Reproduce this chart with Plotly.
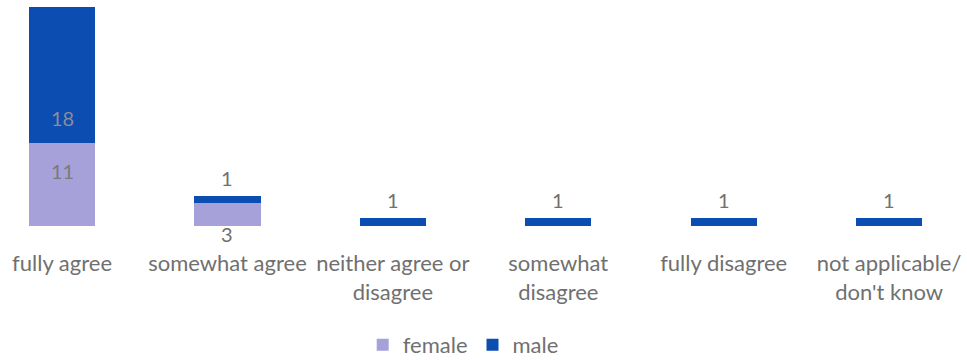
import plotly.graph_objects as go

categories = ["fully agree", "somewhat agree", "neither agree or<br>disagree",
              "somewhat<br>disagree", "fully disagree", "not applicable/<br>don't know"]
female = [11, 3, 0, 0, 0, 0]
male = [18, 1, 1, 1, 1, 1]

FEMALE_C = "#a7a1d9"
MALE_C = "#0b4db0"
TXT = "#707070"
FONT = "Lato"
FS = 22

fig = go.Figure()
fig.add_trace(go.Bar(x=categories, y=female, name="female", marker_color=FEMALE_C,
                     marker_line_width=0))
fig.add_trace(go.Bar(x=categories, y=male, name="male", marker_color=MALE_C,
                     marker_line_width=0))

# value labels (positions derived from data; pixel offsets are style)
anns = []
for i, c in enumerate(categories):
    f, m = female[i], male[i]
    if f > 0:
        if f >= 5:
            anns.append(dict(x=c, y=0, text=str(f), yshift=55, font_color="#7a7a7a"))
        else:
            anns.append(dict(x=c, y=0, text=str(f), yshift=-8, font_color=TXT))
    if m > 0:
        if m >= 5:
            anns.append(dict(x=c, y=f, text=str(m), yshift=25, font_color="#8c8c9c"))
        else:
            anns.append(dict(x=c, y=f + m, text=str(m), yshift=18, font_color=TXT))
for a in anns:
    fig.add_annotation(x=a["x"], y=a["y"], text=a["text"], showarrow=False,
                       yshift=a["yshift"], font=dict(family=FONT, size=20, color=a["font_color"]))

fig.update_layout(
    barmode="stack",
    bargap=0.6,
    width=967, height=360,
    margin=dict(l=0, r=0, t=7, b=134, autoexpand=False),
    plot_bgcolor="white", paper_bgcolor="white",
    font=dict(family=FONT, size=FS, color=TXT),
    showlegend=True,
    legend=dict(orientation="h", x=0.479, xanchor="center", y=0.042, yanchor="middle",
                yref="container", traceorder="normal",
                font=dict(family=FONT, size=FS, color=TXT), itemwidth=30),
    xaxis=dict(range=[-0.375, 5.471], showgrid=False, showline=False, zeroline=False,
               automargin=False,
               ticks="", tickfont=dict(family=FONT, size=FS, color=TXT),
               ticklabelstandoff=22),
    yaxis=dict(range=[0, 29], visible=False, automargin=False),
)

fig.write_html("out.html")
